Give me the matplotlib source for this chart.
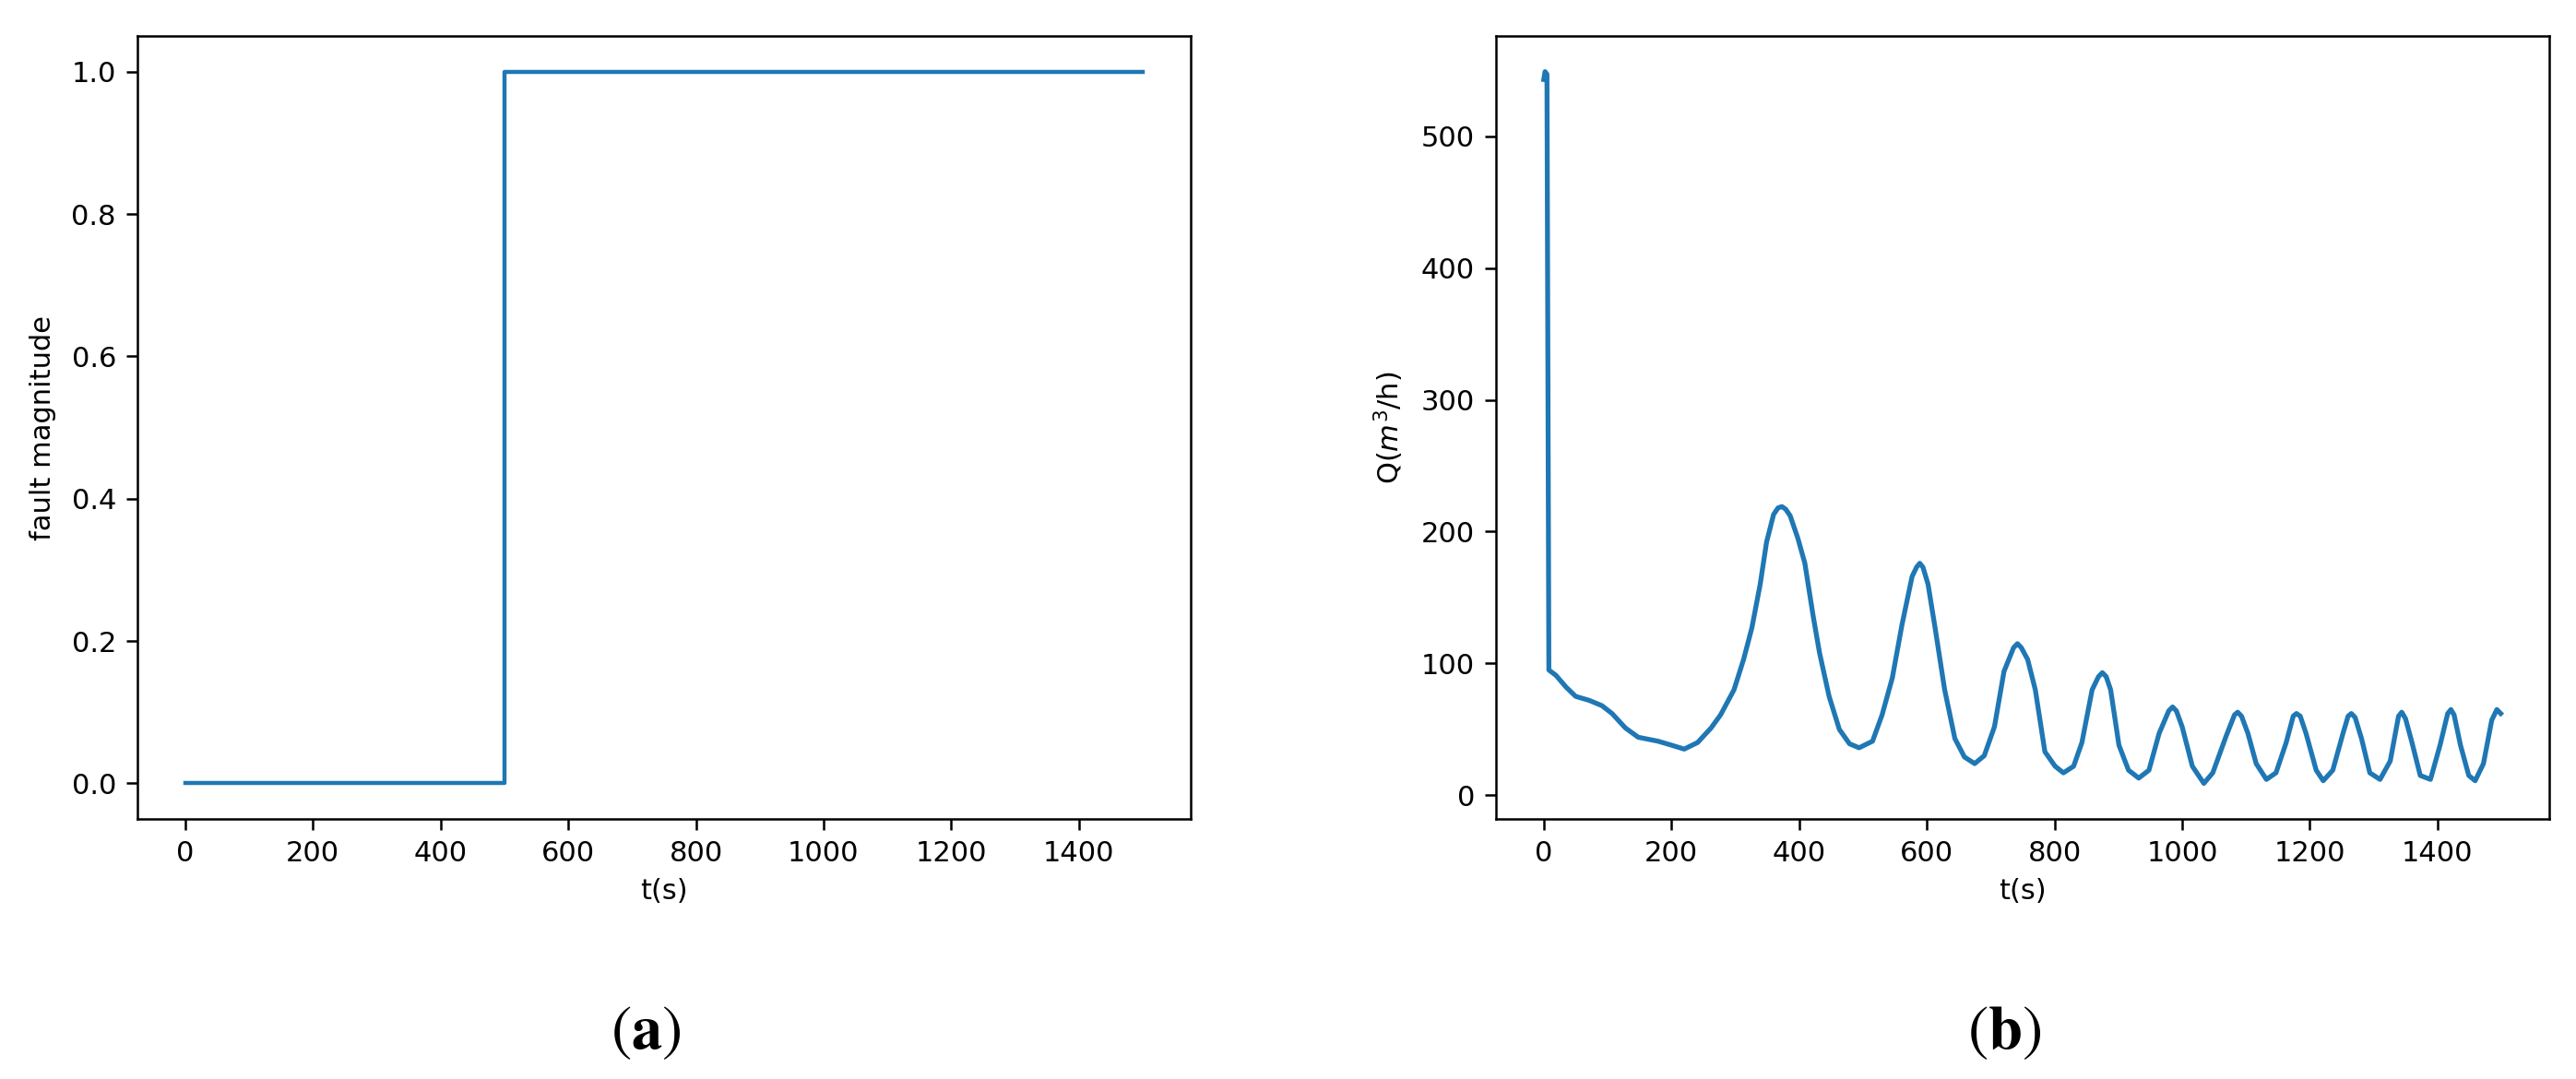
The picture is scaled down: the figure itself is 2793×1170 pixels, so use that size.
import matplotlib
matplotlib.use("Agg")
import matplotlib.pyplot as plt

# (a) fault signal
t_fault = [0, 500, 500, 1500]
fault_mag = [0, 0, 1, 1]

# (b) flow rate
t_flow = [0, 2, 5, 8, 19, 35, 50, 71, 91, 107, 128, 148, 179, 200, 220, 241,
          262, 277, 298, 313, 326, 339, 349, 360, 367, 373, 379, 386, 398, 409,
          422, 432, 447, 463, 479, 494, 515, 530, 546, 561, 577, 584, 589, 594,
          602, 613, 628, 644, 659, 675, 690, 706, 721, 736, 742, 748, 758, 770,
          785, 801, 814, 830, 843, 859, 869, 875, 881, 888, 901, 916, 932, 948,
          964, 979, 985, 991, 1000, 1016, 1034, 1048, 1069, 1082, 1087, 1093,
          1103, 1116, 1132, 1147, 1163, 1174, 1179, 1185, 1194, 1210, 1221,
          1236, 1252, 1260, 1265, 1271, 1281, 1294, 1310, 1326, 1339, 1344,
          1350, 1360, 1373, 1389, 1404, 1416, 1421, 1426, 1436, 1449, 1459,
          1472, 1485, 1493, 1499]
q_flow = [543, 549, 547, 95, 91, 82, 75, 72, 68, 62, 51, 44, 41, 38, 35, 40,
          51, 61, 80, 103, 127, 160, 192, 213, 218, 219, 217, 212, 195, 176,
          136, 108, 75, 50, 39, 36, 41, 61, 89, 129, 166, 173, 176, 173,
          160, 127, 80, 43, 29, 24, 30, 52, 94, 112, 115, 112, 103, 80,
          33, 22, 17, 22, 40, 80, 90, 93, 90, 80, 38, 19, 13, 19,
          47, 64, 67, 64, 52, 22, 9, 17, 45, 61, 63, 60,
          47, 24, 12, 17, 40, 60, 62, 60, 47, 19, 11,
          19, 47, 60, 62, 59, 43, 17, 12, 26, 60, 63,
          58, 40, 15, 12, 38, 62, 65, 61, 38, 15, 11,
          24, 57, 65, 62]

line_color = '#1f77b4'
fs = 22

fig = plt.figure(figsize=(27.93, 11.70), dpi=100)
ax1 = fig.add_axes([0.0533, 0.241, 0.4089, 0.7256])
ax2 = fig.add_axes([0.5807, 0.241, 0.4089, 0.7256])

ax1.plot(t_fault, fault_mag, color=line_color, lw=3.2)
ax1.set_xlabel('t(s)', fontsize=fs, labelpad=9)
ax1.set_ylabel('fault magnitude', fontsize=fs, labelpad=12)

ax2.plot(t_flow, q_flow, color=line_color, lw=3.8)
ax2.set_xlabel('t(s)', fontsize=fs, labelpad=9)
ax2.set_ylabel(r'Q($m^3$/h)', fontsize=fs, labelpad=12)

for ax in (ax1, ax2):
    ax.set_xticks(range(0, 1401, 200))
    ax.set_xlim(-75, 1575)
    ax.tick_params(labelsize=fs, length=8.5, width=1.8, pad=8)
    for sp in ax.spines.values():
        sp.set_linewidth(1.8)

# panel labels
fig.text(0.2506, 0.028, r'$(\mathbf{a})$', fontsize=48, ha='center', va='baseline', math_fontfamily='stix')
fig.text(0.778, 0.028, r'$(\mathbf{b})$', fontsize=48, ha='center', va='baseline', math_fontfamily='stix')

fig.savefig('out.png', dpi=100)
